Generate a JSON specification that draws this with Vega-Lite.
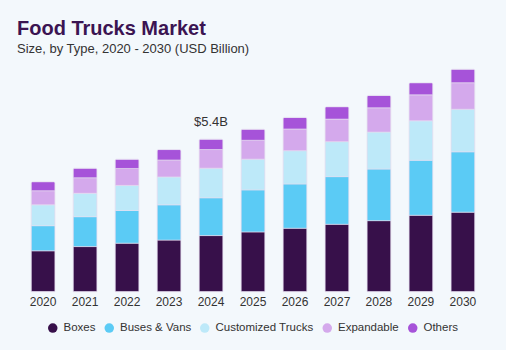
{
  "$schema": "https://vega.github.io/schema/vega-lite/v6.json",
  "width": 506,
  "height": 231.7,
  "autosize": {"type": "none"},
  "padding": {"top": 60, "left": 0, "right": 0, "bottom": 58},
  "background": "#F3F8FC",
  "config": {
    "view": {"stroke": null},
    "font": "Liberation Sans"
  },
  "title": {
    "text": "Food Trucks Market",
    "subtitle": "Size, by Type, 2020 - 2030 (USD Billion)",
    "anchor": "start",
    "frame": "group",
    "dx": 17,
    "offset": 4,
    "fontSize": 20,
    "fontWeight": "bold",
    "color": "#3B1452",
    "subtitleFontSize": 13,
    "subtitleColor": "#333333",
    "subtitlePadding": 4
  },
  "datasets": {
    "market": [
      {"year": "2020", "type": "Boxes", "value": 1.45},
      {"year": "2020", "type": "Buses & Vans", "value": 0.89},
      {"year": "2020", "type": "Customized Trucks", "value": 0.74},
      {"year": "2020", "type": "Expandable", "value": 0.50},
      {"year": "2020", "type": "Others", "value": 0.32},
      {"year": "2021", "type": "Boxes", "value": 1.60},
      {"year": "2021", "type": "Buses & Vans", "value": 1.06},
      {"year": "2021", "type": "Customized Trucks", "value": 0.83},
      {"year": "2021", "type": "Expandable", "value": 0.55},
      {"year": "2021", "type": "Others", "value": 0.34},
      {"year": "2022", "type": "Boxes", "value": 1.72},
      {"year": "2022", "type": "Buses & Vans", "value": 1.16},
      {"year": "2022", "type": "Customized Trucks", "value": 0.89},
      {"year": "2022", "type": "Expandable", "value": 0.60},
      {"year": "2022", "type": "Others", "value": 0.33},
      {"year": "2023", "type": "Boxes", "value": 1.83},
      {"year": "2023", "type": "Buses & Vans", "value": 1.25},
      {"year": "2023", "type": "Customized Trucks", "value": 0.99},
      {"year": "2023", "type": "Expandable", "value": 0.60},
      {"year": "2023", "type": "Others", "value": 0.37},
      {"year": "2024", "type": "Boxes", "value": 1.99},
      {"year": "2024", "type": "Buses & Vans", "value": 1.34},
      {"year": "2024", "type": "Customized Trucks", "value": 1.05},
      {"year": "2024", "type": "Expandable", "value": 0.66},
      {"year": "2024", "type": "Others", "value": 0.37},
      {"year": "2025", "type": "Boxes", "value": 2.12},
      {"year": "2025", "type": "Buses & Vans", "value": 1.49},
      {"year": "2025", "type": "Customized Trucks", "value": 1.09},
      {"year": "2025", "type": "Expandable", "value": 0.67},
      {"year": "2025", "type": "Others", "value": 0.39},
      {"year": "2026", "type": "Boxes", "value": 2.25},
      {"year": "2026", "type": "Buses & Vans", "value": 1.57},
      {"year": "2026", "type": "Customized Trucks", "value": 1.18},
      {"year": "2026", "type": "Expandable", "value": 0.77},
      {"year": "2026", "type": "Others", "value": 0.41},
      {"year": "2027", "type": "Boxes", "value": 2.39},
      {"year": "2027", "type": "Buses & Vans", "value": 1.69},
      {"year": "2027", "type": "Customized Trucks", "value": 1.24},
      {"year": "2027", "type": "Expandable", "value": 0.80},
      {"year": "2027", "type": "Others", "value": 0.44},
      {"year": "2028", "type": "Boxes", "value": 2.52},
      {"year": "2028", "type": "Buses & Vans", "value": 1.83},
      {"year": "2028", "type": "Customized Trucks", "value": 1.31},
      {"year": "2028", "type": "Expandable", "value": 0.86},
      {"year": "2028", "type": "Others", "value": 0.44},
      {"year": "2029", "type": "Boxes", "value": 2.71},
      {"year": "2029", "type": "Buses & Vans", "value": 1.95},
      {"year": "2029", "type": "Customized Trucks", "value": 1.40},
      {"year": "2029", "type": "Expandable", "value": 0.92},
      {"year": "2029", "type": "Others", "value": 0.43},
      {"year": "2030", "type": "Boxes", "value": 2.82},
      {"year": "2030", "type": "Buses & Vans", "value": 2.14},
      {"year": "2030", "type": "Customized Trucks", "value": 1.51},
      {"year": "2030", "type": "Expandable", "value": 0.94},
      {"year": "2030", "type": "Others", "value": 0.48}
    ],
    "note": [
      {"year": "2024", "total": 5.41, "label": "$5.4B"}
    ]
  },
  "layer": [
    {
      "data": {"name": "market"},
      "mark": {"type": "bar", "stroke": "#E6DDF0", "strokeWidth": 0.6, "cornerRadiusTopLeft": 1.5, "cornerRadiusTopRight": 1.5},
      "encoding": {
        "x": {
          "field": "year",
          "type": "ordinal",
          "scale": {"paddingInner": 0.43, "paddingOuter": 0.741},
          "axis": {"title": null, "ticks": false, "domain": false, "labelAngle": 0, "labelFontSize": 12, "labelColor": "#333333", "labelPadding": 5}
        },
        "y": {
          "field": "value",
          "type": "quantitative",
          "aggregate": "sum",
          "stack": "zero",
          "scale": {"domain": [0, 8.216], "nice": false, "zero": true},
          "axis": null
        },
        "color": {
          "field": "type",
          "type": "nominal",
          "scale": {
            "domain": ["Boxes", "Buses & Vans", "Customized Trucks", "Expandable", "Others"],
            "range": ["#37104A", "#5BCBF5", "#BDE9F9", "#D4A9EC", "#A653D9"]
          },
          "legend": {
            "title": null,
            "orient": "none",
            "legendX": 47,
            "legendY": 262,
            "direction": "horizontal",
            "symbolType": "circle",
            "symbolSize": 90,
            "symbolStrokeWidth": 0,
            "labelFontSize": 11.5,
            "labelColor": "#333333",
            "labelOffset": 5,
            "columnPadding": 7.5
          }
        },
        "order": {"field": "type", "sort": "ascending"}
      }
    },
    {
      "data": {"name": "note"},
      "mark": {"type": "text", "fontSize": 13, "color": "#333333", "dy": -13, "baseline": "alphabetic"},
      "encoding": {
        "x": {"field": "year", "type": "ordinal"},
        "y": {"field": "total", "type": "quantitative"},
        "text": {"field": "label"}
      }
    }
  ]
}
